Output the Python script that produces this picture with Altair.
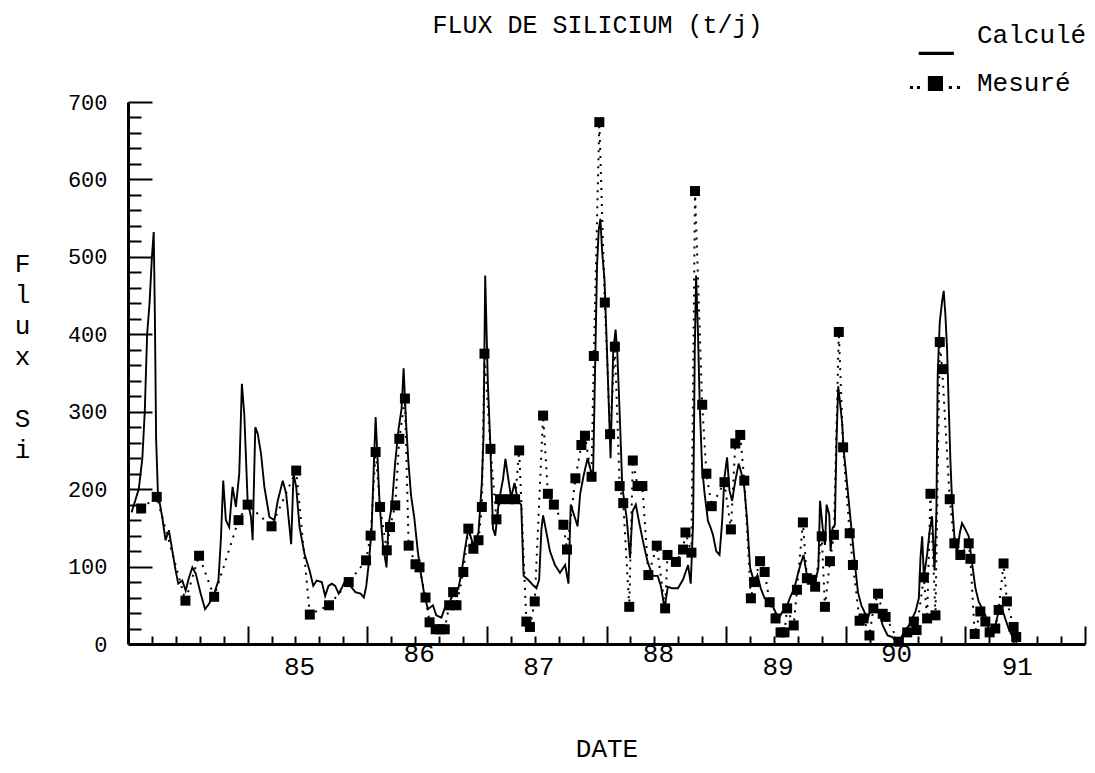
import altair as alt
import pandas as pd

# ---- data: (decimal year, flux t/j) ----
CALCULE = [
    (1984.03, 170), (1984.06, 185), (1984.09, 200), (1984.12, 240), (1984.14, 300),
    (1984.16, 400), (1984.18, 440), (1984.20, 500), (1984.215, 532), (1984.225, 420),
    (1984.235, 265), (1984.25, 195), (1984.286, 164), (1984.314, 134), (1984.342, 147),
    (1984.37, 121), (1984.398, 95), (1984.42, 78), (1984.454, 82), (1984.482, 69),
    (1984.51, 86), (1984.538, 99), (1984.566, 91), (1984.608, 65), (1984.644, 45),
    (1984.678, 52), (1984.72, 65), (1984.756, 82), (1984.776, 134), (1984.796, 211),
    (1984.818, 160), (1984.846, 151), (1984.874, 203), (1984.902, 177), (1984.93, 220),
    (1984.952, 336), (1984.972, 297), (1985.0, 185), (1985.028, 164), (1985.042, 134),
    (1985.064, 280), (1985.084, 272), (1985.112, 246), (1985.14, 203), (1985.182, 164),
    (1985.224, 160), (1985.252, 185), (1985.294, 211), (1985.322, 194), (1985.35, 151),
    (1985.364, 129), (1985.384, 220), (1985.406, 203), (1985.434, 151), (1985.476, 116),
    (1985.518, 95), (1985.549, 75), (1985.577, 82), (1985.62, 80), (1985.648, 62),
    (1985.676, 75), (1985.704, 78), (1985.732, 75), (1985.761, 65), (1985.789, 73),
    (1985.817, 82), (1985.859, 75), (1985.901, 67), (1985.944, 65), (1985.972, 60),
    (1985.992, 75), (1986.014, 106), (1986.037, 149), (1986.056, 235), (1986.07, 293),
    (1986.085, 244), (1986.104, 179), (1986.132, 127), (1986.161, 99), (1986.177, 153),
    (1986.206, 179), (1986.234, 235), (1986.262, 278), (1986.287, 304), (1986.304, 356),
    (1986.324, 287), (1986.344, 235), (1986.366, 192), (1986.394, 162), (1986.423, 119),
    (1986.451, 88), (1986.479, 62), (1986.507, 45), (1986.549, 50), (1986.577, 37),
    (1986.62, 34), (1986.656, 50), (1986.69, 54), (1986.718, 67), (1986.761, 71),
    (1986.789, 93), (1986.817, 123), (1986.845, 149), (1986.887, 127), (1986.93, 144),
    (1986.958, 209), (1986.972, 269), (1986.986, 476), (1987.008, 338), (1987.028, 261),
    (1987.051, 149), (1987.07, 140), (1987.099, 183), (1987.135, 213), (1987.155, 239),
    (1987.183, 209), (1987.203, 189), (1987.231, 208), (1987.259, 185), (1987.287, 180),
    (1987.307, 88), (1987.344, 83), (1987.386, 76), (1987.414, 72), (1987.437, 83),
    (1987.456, 148), (1987.47, 166), (1987.499, 143), (1987.527, 120), (1987.569, 102),
    (1987.611, 92), (1987.654, 102), (1987.682, 78), (1987.701, 180), (1987.73, 166),
    (1987.758, 152), (1987.78, 194), (1987.808, 217), (1987.842, 240), (1987.865, 226),
    (1987.887, 212), (1987.899, 309), (1987.921, 489), (1987.935, 535), (1987.949, 549),
    (1987.963, 508), (1987.983, 471), (1988.0, 397), (1988.02, 305), (1988.034, 240),
    (1988.056, 378), (1988.076, 406), (1988.09, 378), (1988.113, 286), (1988.132, 203),
    (1988.169, 162), (1988.197, 111), (1988.217, 171), (1988.245, 180), (1988.273, 157),
    (1988.31, 129), (1988.344, 106), (1988.386, 88), (1988.428, 88), (1988.456, 74),
    (1988.485, 46), (1988.513, 74), (1988.546, 72), (1988.597, 72), (1988.639, 83),
    (1988.682, 102), (1988.704, 78), (1988.724, 157), (1988.738, 380), (1988.749, 476),
    (1988.765, 400), (1988.78, 306), (1988.799, 228), (1988.821, 193), (1988.848, 159),
    (1988.871, 150), (1988.89, 141), (1988.917, 120), (1988.945, 115), (1988.967, 159),
    (1988.986, 215), (1989.008, 241), (1989.028, 198), (1989.05, 185), (1989.077, 211),
    (1989.105, 233), (1989.129, 220), (1989.152, 202), (1989.174, 163), (1989.201, 98),
    (1989.234, 80), (1989.262, 89), (1989.289, 72), (1989.322, 59), (1989.358, 57),
    (1989.386, 50), (1989.413, 41), (1989.441, 33), (1989.468, 41), (1989.51, 50),
    (1989.537, 61), (1989.57, 72), (1989.598, 89), (1989.62, 102), (1989.647, 115),
    (1989.675, 89), (1989.708, 89), (1989.744, 80), (1989.771, 98), (1989.785, 185),
    (1989.807, 150), (1989.826, 128), (1989.84, 180), (1989.862, 167), (1989.873, 120),
    (1989.89, 150), (1989.909, 154), (1989.923, 263), (1989.937, 333), (1989.95, 315),
    (1989.97, 285), (1989.983, 250), (1990.006, 215), (1990.028, 180), (1990.055, 137),
    (1990.08, 98), (1990.102, 67), (1990.13, 50), (1990.157, 41), (1990.185, 33),
    (1990.212, 46), (1990.24, 46), (1990.281, 41), (1990.309, 24), (1990.35, 11),
    (1990.389, 9), (1990.431, 2), (1990.458, 7), (1990.486, 15), (1990.528, 24),
    (1990.556, 33), (1990.583, 42), (1990.611, 59), (1990.625, 112), (1990.639, 139),
    (1990.653, 86), (1990.681, 117), (1990.703, 148), (1990.722, 165), (1990.742, 95),
    (1990.758, 174), (1990.769, 350), (1990.786, 416), (1990.806, 443), (1990.819, 456),
    (1990.833, 425), (1990.847, 381), (1990.861, 306), (1990.875, 236), (1990.889, 183),
    (1990.908, 139), (1990.931, 117), (1990.953, 143), (1990.972, 156), (1991.0, 148),
    (1991.028, 139), (1991.056, 104), (1991.083, 73), (1991.111, 55), (1991.139, 46),
    (1991.167, 37), (1991.186, 24), (1991.208, 15), (1991.25, 24), (1991.278, 42),
    (1991.306, 46), (1991.333, 33), (1991.361, 20), (1991.389, 11), (1991.417, 4),
    (1991.431, 2),
]

MESURE = [
    (1984.11, 175), (1984.24, 190), (1984.48, 56), (1984.594, 114), (1984.72, 61),
    (1984.924, 160), (1985.0, 180), (1985.2, 152), (1985.406, 224), (1985.52, 38),
    (1985.68, 50), (1985.845, 80), (1985.99, 108), (1986.028, 140), (1986.07, 248),
    (1986.107, 177), (1986.163, 121), (1986.19, 151), (1986.234, 179), (1986.268, 265),
    (1986.315, 317), (1986.346, 127), (1986.403, 103), (1986.437, 99), (1986.487, 60),
    (1986.521, 28), (1986.572, 19), (1986.611, 19), (1986.648, 19), (1986.685, 50),
    (1986.718, 67), (1986.746, 50), (1986.803, 93), (1986.845, 149), (1986.887, 123),
    (1986.93, 134), (1986.958, 177), (1986.98, 375), (1987.03, 252), (1987.08, 161),
    (1987.11, 187), (1987.19, 187), (1987.236, 187), (1987.27, 250), (1987.33, 29),
    (1987.36, 22), (1987.40, 55), (1987.47, 295), (1987.51, 194), (1987.56, 180),
    (1987.64, 154), (1987.67, 122), (1987.74, 214), (1987.79, 257), (1987.82, 269),
    (1987.875, 216), (1987.894, 372), (1987.94, 674), (1987.986, 441), (1988.03, 271),
    (1988.07, 384), (1988.11, 204), (1988.14, 182), (1988.19, 48), (1988.22, 237),
    (1988.26, 204), (1988.30, 204), (1988.35, 89), (1988.42, 127), (1988.49, 46),
    (1988.51, 115), (1988.58, 106), (1988.64, 122), (1988.66, 144), (1988.71, 118),
    (1988.74, 585), (1988.80, 309), (1988.835, 220), (1988.88, 178), (1988.986, 209),
    (1989.04, 148), (1989.077, 259), (1989.118, 270), (1989.152, 211), (1989.207, 59),
    (1989.234, 80), (1989.284, 107), (1989.322, 93), (1989.364, 54), (1989.413, 33),
    (1989.455, 15), (1989.488, 15), (1989.51, 46), (1989.565, 24), (1989.592, 70),
    (1989.642, 157), (1989.675, 85), (1989.716, 83), (1989.744, 74), (1989.799, 139),
    (1989.826, 48), (1989.868, 107), (1989.901, 141), (1989.942, 403), (1989.978, 254),
    (1990.033, 143), (1990.06, 102), (1990.116, 30), (1990.149, 33), (1990.198, 11),
    (1990.231, 46), (1990.27, 65), (1990.309, 39), (1990.333, 35), (1990.444, 3),
    (1990.514, 15), (1990.569, 29), (1990.592, 18), (1990.653, 86), (1990.68, 33),
    (1990.708, 194), (1990.75, 37), (1990.786, 390), (1990.806, 355), (1990.869, 187),
    (1990.908, 130), (1990.958, 115), (1991.028, 130), (1991.042, 110), (1991.078, 13),
    (1991.125, 42), (1991.167, 29), (1991.203, 15), (1991.25, 20), (1991.278, 44),
    (1991.319, 104), (1991.347, 55), (1991.403, 22), (1991.425, 9),
]

SERIES = ["Calculé", "Mesuré"]
Y_TITLE_WORD1 = ["F", "l", "u", "x"]
Y_TITLE_WORD2 = ["S", "i"]
YEAR_LABEL_POS = [1985.43, 1986.43, 1987.43, 1988.43, 1989.43, 1990.42, 1991.43]
X_MAJOR = [1985, 1986, 1987, 1988, 1989, 1990, 1991, 1992]
X_MINOR = [round(1984 + 0.2 * i, 1) for i in range(1, 40) if i % 5 != 0]
Y_MAJOR = [0, 100, 200, 300, 400, 500, 600, 700]
Y_MINOR = [v for v in range(20, 700, 20) if v % 100 != 0]

calc = pd.DataFrame(CALCULE, columns=["t", "v"])
mes = pd.DataFrame(MESURE, columns=["t", "v"])

FONT = "Liberation Mono"
XS = alt.Scale(domain=[1984, 1992], nice=False, zero=False)
YS = alt.Scale(domain=[0, 700], nice=False)

# legend glyphs (unit = sqrt(symbolSize)/2 px)
LINE_GLYPH = "M-0.62,0.60H0.64V0.71H-0.62Z"
MES_GLYPH = ("M-0.29,-0.25H0.25V0.29H-0.29Z"
             "M-0.93,0.11H-0.82V0.21H-0.93Z M-0.68,0.11H-0.57V0.21H-0.68Z"
             "M0.46,0.11H0.57V0.21H0.46Z M0.75,0.11H0.86V0.21H0.75Z")

YTITLE_STYLE = dict(titleAngle=0, titleFont=FONT, titleFontSize=26, titleFontWeight="normal",
                    titleColor="black", titleAlign="center", titleBaseline="top",
                    titleX=-106, titleLineHeight=31)

# layer 1: computed flux (solid) with minor ticks + axis lines
line_calc = alt.Chart(calc).mark_line(color="black", strokeWidth=1.9).encode(
    x=alt.X("t:Q", scale=XS, axis=alt.Axis(
        orient="bottom", values=X_MINOR, tickSize=alt.ExprRef("-8"), tickWidth=2,
        tickColor="black", labels=False, title=None, domain=True, domainWidth=3,
        domainColor="black", grid=False)),
    y=alt.Y("v:Q", scale=YS, axis=alt.Axis(
        orient="left", values=Y_MINOR, tickSize=alt.ExprRef("-13"), tickWidth=2,
        tickColor="black", labels=False, title=None, domain=True, domainWidth=3,
        domainColor="black", grid=False)),
)

# layer 2: measured flux, dotted, with major ticks (+ second word of y title)
line_mes = alt.Chart(mes).mark_line(color="black", strokeWidth=2, strokeDash=[2, 6]).encode(
    x=alt.X("t:Q", scale=XS, axis=alt.Axis(
        orient="bottom", values=X_MAJOR, tickSize=alt.ExprRef("-18"), tickWidth=2,
        tickColor="black", labels=False, title=None, domain=False, grid=False)),
    y=alt.Y("v:Q", scale=YS, axis=alt.Axis(
        orient="left", values=Y_MAJOR, tickSize=alt.ExprRef("-24"), tickWidth=2,
        tickColor="black", labels=False, domain=False, grid=False,
        title=Y_TITLE_WORD2, titleY=303, **YTITLE_STYLE)),
)

# layer 3: measured squares, carrying labels and titles
pts = alt.Chart(mes).mark_point(shape="square", filled=True, color="black", size=100, opacity=1).encode(
    x=alt.X("t:Q", scale=XS, axis=alt.Axis(
        orient="bottom", values=YEAR_LABEL_POS, ticks=False, domain=False, grid=False,
        labelExpr="floor(datum.value) % 100", labelFont=FONT, labelFontSize=26,
        labelColor="black", labelPadding=9,
        labelBaseline={"condition": {"test": "floor(datum.value) % 2 == 1", "value": "top"},
                       "value": "middle"},
        title="DATE", titleFont=FONT, titleFontSize=26, titleFontWeight="normal",
        titleColor="black", titleY=104, titleBaseline="middle")),
    y=alt.Y("v:Q", scale=YS, axis=alt.Axis(
        orient="left", values=Y_MAJOR, ticks=False, domain=False, grid=False,
        labelFont=FONT, labelFontSize=22, labelColor="black", labelPadding=21,
        title=Y_TITLE_WORD1, titleY=148, **YTITLE_STYLE)),
)

# layer 4: legend only (no marks drawn)
legend_layer = alt.Chart(mes).transform_calculate(serie="'Mesuré'").transform_filter("false").mark_point(
    filled=True, color="black", opacity=1).encode(
    x=alt.X("t:Q", scale=XS, axis=None),
    y=alt.Y("v:Q", scale=YS, axis=None),
    shape=alt.Shape("serie:N", scale=alt.Scale(domain=SERIES, range=[LINE_GLYPH, MES_GLYPH]),
                    legend=alt.Legend(title=None, orient="none", legendX=780, legendY=-95,
                                      symbolSize=3136, symbolFillColor="black",
                                      symbolStrokeWidth=0, symbolOpacity=1,
                                      labelFont=FONT, labelFontSize=26, labelColor="black",
                                      labelOffset=13, rowPadding=0)),
)

chart = alt.layer(line_calc, line_mes, pts, legend_layer).resolve_axis(
    x="independent", y="independent"
).properties(
    width=957, height=542,
    title=alt.TitleParams("FLUX DE SILICIUM (t/j)", font=FONT, fontSize=25,
                          fontWeight="normal", color="black", anchor="middle",
                          dx=-9, dy=51, offset=20),
    autosize=alt.AutoSizeParams(type="none"),
    padding={"left": 128, "top": 102, "right": 10, "bottom": 129},
    background="white",
).configure_view(stroke=None)

chart.save("out.html", embed_options={"renderer": "svg", "actions": False})
